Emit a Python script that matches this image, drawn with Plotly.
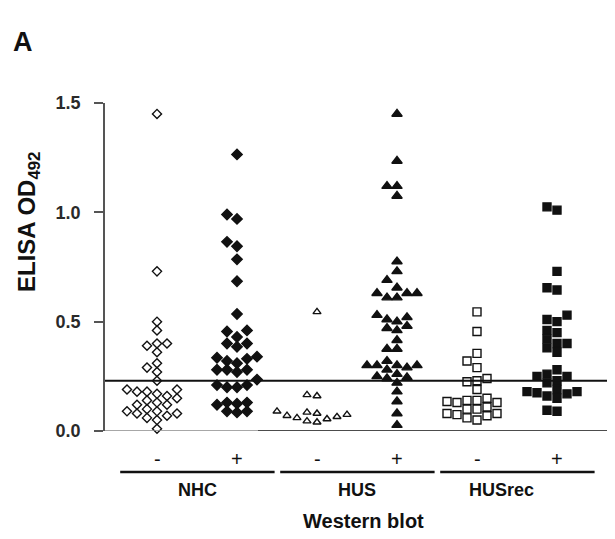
import plotly.graph_objects as go

# ---------------- data ----------------
groups = ["NHC", "HUS", "HUSrec"]
wb_labels = ["-", "+"]
y_ticks = [0.0, 0.5, 1.0, 1.5]

nhc_neg = [1.45, 0.73, 0.50, 0.46, 0.40, 0.40, 0.39, 0.36, 0.31, 0.29, 0.27, 0.23,
           0.19, 0.19, 0.18, 0.18, 0.17, 0.16, 0.15, 0.14, 0.13, 0.12, 0.12,
           0.10, 0.09, 0.09, 0.08, 0.08, 0.07, 0.06, 0.05, 0.01]
nhc_pos = [1.265, 0.99, 0.97, 0.865, 0.845, 0.785, 0.685, 0.535, 0.46, 0.455, 0.43,
           0.40, 0.40, 0.385, 0.34, 0.335, 0.33, 0.32, 0.31, 0.28, 0.28, 0.28, 0.27,
           0.235, 0.21, 0.21, 0.20, 0.20, 0.13, 0.13, 0.125, 0.12, 0.09, 0.09, 0.085]
hus_neg = [0.545, 0.165, 0.16, 0.09, 0.085, 0.08, 0.075, 0.07, 0.065, 0.06, 0.055,
           0.045, 0.04]
hus_pos = [1.45, 1.235, 1.12, 1.12, 1.075, 0.775, 0.73, 0.69, 0.655, 0.63, 0.63,
           0.63, 0.61, 0.61, 0.53, 0.52, 0.51, 0.50, 0.48, 0.47, 0.46, 0.415,
           0.375, 0.375, 0.32, 0.30, 0.30, 0.30, 0.30, 0.29, 0.28, 0.26, 0.25,
           0.245, 0.24, 0.22, 0.18, 0.135, 0.08, 0.027]
husrec_neg = [0.545, 0.455, 0.355, 0.32, 0.29, 0.24, 0.23, 0.225, 0.19, 0.15, 0.14,
              0.14, 0.135, 0.13, 0.13, 0.11, 0.10, 0.10, 0.08, 0.08, 0.075, 0.07,
              0.06, 0.05]
husrec_pos = [1.025, 1.01, 0.73, 0.655, 0.645, 0.53, 0.51, 0.50, 0.46, 0.45, 0.42,
              0.40, 0.40, 0.38, 0.36, 0.28, 0.26, 0.25, 0.25, 0.23, 0.22, 0.19,
              0.18, 0.18, 0.175, 0.17, 0.16, 0.15, 0.095, 0.09]
cutoff = 0.23

series = [nhc_neg, nhc_pos, hus_neg, hus_pos, husrec_neg, husrec_pos]
symbols = ["diamond-open", "diamond", "triangle-up-open", "triangle-up",
           "square-open", "square"]
sizes = [7, 8, 7, 9, 8, 8]

# ---------------- layout geometry ----------------
# The page body has an 8px default margin; compensate so the figure lands
# where the reference has it inside the 615x539 window.
OFF = 8
W, H = 615 - OFF, 539 - OFF
ML, MR, MT = 105 - OFF, 5, 103 - OFF
PW = W - ML - MR
PH = 328
MB = H - MT - PH
YR = [0, 1.5]
XR = [0.35, 0.35 + PW / 80.0]
PX_PER_Y = PH / (YR[1] - YR[0])
PX_PER_X = PW / (XR[1] - XR[0])
BOTTOM = MT + PH  # pixel row of y = 0 inside the figure


def px_y(row):
    """reference window row -> paper y"""
    return (BOTTOM - (row - OFF)) / PH


def px_x(col):
    """reference window column -> paper x"""
    return ((col - OFF) - ML) / PW


def swarm(values, step_px=10.0, min_gap=8.0):
    order = sorted(range(len(values)), key=lambda i: values[i])
    placed = []
    offs = [0.0] * len(values)
    for i in order:
        y = values[i] * PX_PER_Y
        for k in [0, -1, 1, -2, 2, -3, 3, -4, 4]:
            if all(not (c == k and abs(y - py) < min_gap) for c, py in placed):
                break
        placed.append((k, y))
        offs[i] = k * step_px / PX_PER_X
    return offs


fig = go.Figure()
for idx, vals in enumerate(series):
    pos = idx + 1
    offs = swarm(vals)
    fig.add_trace(go.Scatter(
        x=[pos + o for o in offs], y=vals, mode="markers",
        marker=dict(symbol=symbols[idx], size=sizes[idx], color="#111111",
                    line=dict(color="#111111", width=1.4)),
        cliponaxis=False, showlegend=False, hoverinfo="y"))

FONT = "Liberation Sans, Arial, sans-serif"
shapes = []
shapes.append(dict(type="line", xref="paper", yref="y", x0=0, x1=1.01,
                   y0=cutoff, y1=cutoff, line=dict(color="#111111", width=2)))
split = px_x(258)
shapes.append(dict(type="line", xref="paper", yref="y", x0=0, x1=split,
                   y0=0, y1=0, line=dict(color="#8a8a8a", width=1.5)))
shapes.append(dict(type="line", xref="paper", yref="y", x0=split, x1=1.01,
                   y0=0, y1=0, line=dict(color="#111111", width=1.5)))

annotations = []
line_y = px_y(472)
sign_y = px_y(459)
grp_y = px_y(490)
label_shift = [0, 0, -16]
for g, name in enumerate(groups):
    a = 2 * g + 1
    b = 2 * g + 2
    shapes.append(dict(type="line", xref="x", yref="paper", x0=a - 0.46, x1=b + 0.47,
                       y0=line_y, y1=line_y, line=dict(color="#111111", width=2.5)))
    for j, s in enumerate(wb_labels):
        annotations.append(dict(x=a + j, y=sign_y, xref="x", yref="paper", text=s,
                                showarrow=False, xanchor="center", yanchor="middle",
                                font=dict(size=20, color="#111111", family=FONT)))
    annotations.append(dict(x=(a + b) / 2, y=grp_y, xref="x", yref="paper",
                            text="<b>%s</b>" % name, showarrow=False,
                            xanchor="center", yanchor="middle", xshift=label_shift[g],
                            font=dict(size=18, color="#111111", family=FONT)))

annotations.append(dict(x=px_x(363), y=px_y(521), xref="paper", yref="paper",
                        text="<b>Western blot</b>", showarrow=False,
                        xanchor="center", yanchor="middle",
                        font=dict(size=20, color="#111111", family=FONT)))
annotations.append(dict(x=px_x(28), y=px_y(222), xref="paper", yref="paper",
                        text="<b>ELISA OD<sub>492</sub></b>", showarrow=False,
                        textangle=-90, xanchor="center", yanchor="middle",
                        font=dict(size=24, color="#111111", family=FONT)))
annotations.append(dict(x=px_x(11), y=px_y(42), xref="paper", yref="paper",
                        text="<b>A</b>", showarrow=False,
                        xanchor="left", yanchor="middle",
                        font=dict(size=27, color="#111111", family=FONT)))

fig.update_layout(
    width=W, height=H, margin=dict(l=ML, r=MR, t=MT, b=MB),
    paper_bgcolor="white", plot_bgcolor="white",
    shapes=shapes, annotations=annotations,
    xaxis=dict(range=XR, visible=False, fixedrange=True),
    yaxis=dict(range=YR, tickvals=y_ticks,
               ticktext=["<b>%.1f</b>" % t for t in y_ticks],
               ticks="outside", ticklen=9, tickwidth=1.5, tickcolor="#555555",
               showline=True, linecolor="#555555", linewidth=1.5,
               showgrid=False, zeroline=False, ticklabelstandoff=10,
               tickfont=dict(size=18, color="#2a2a2a", family=FONT),
               fixedrange=True),
)
fig.write_html("out.html")
